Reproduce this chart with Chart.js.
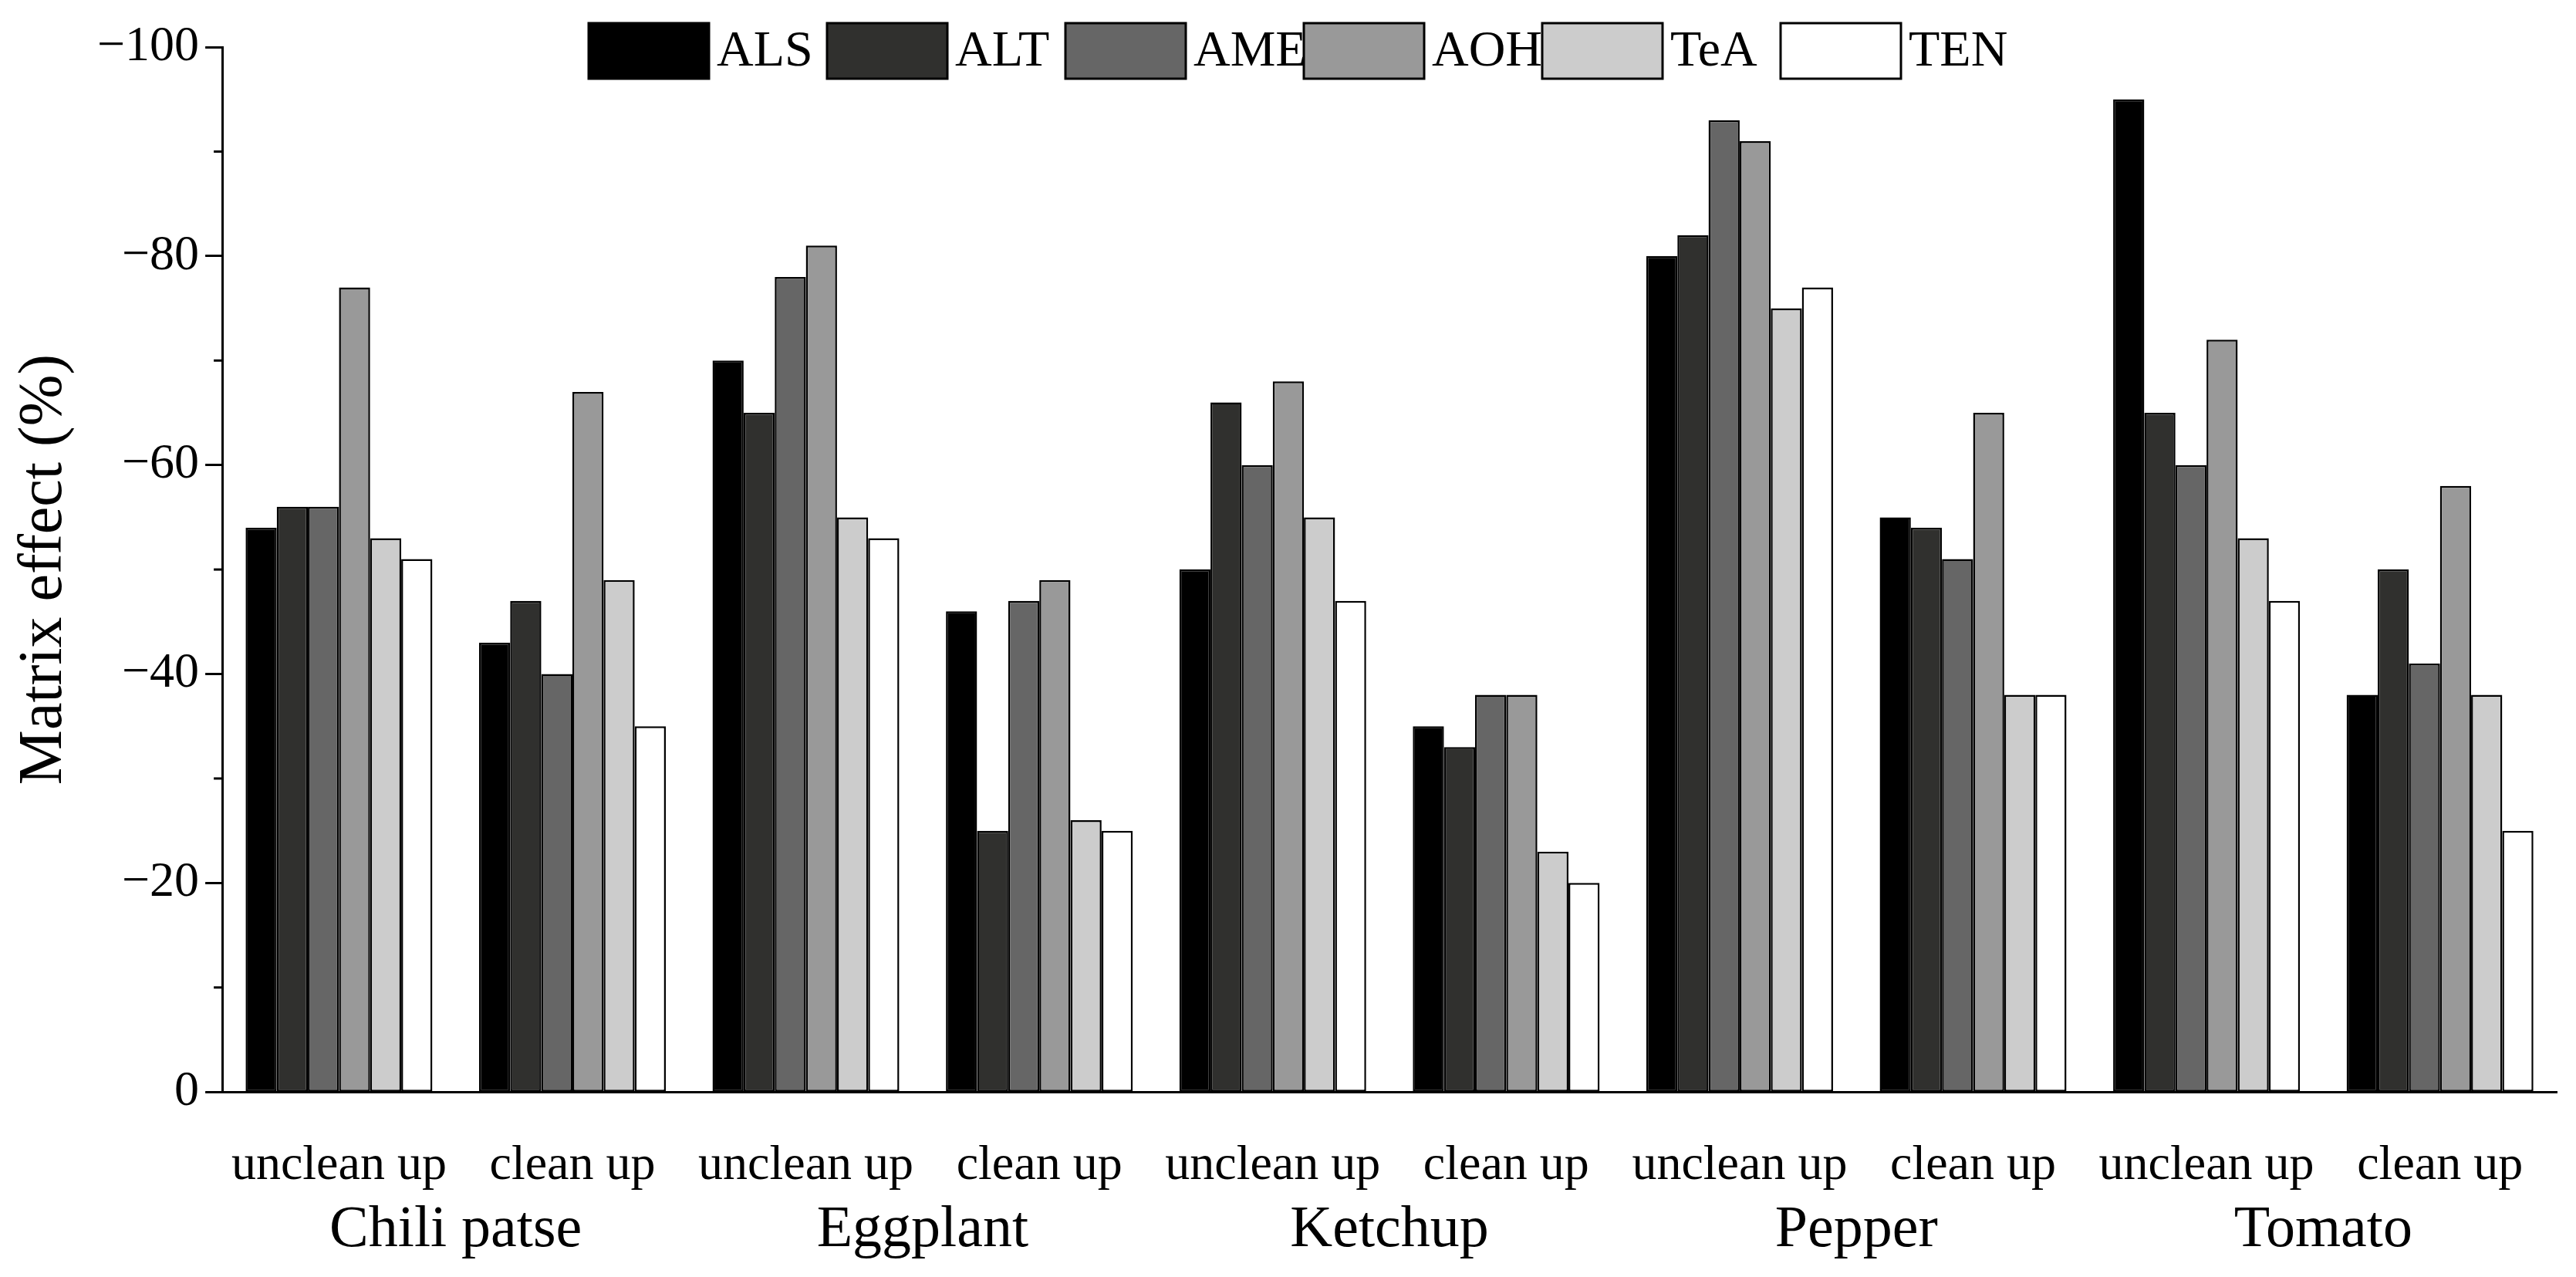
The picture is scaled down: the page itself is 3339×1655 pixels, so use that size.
<!DOCTYPE html>
<html>
<head>
<meta charset="utf-8">
<script src="https://cdn.jsdelivr.net/npm/chart.js@4"></script>
<style>
  body { margin: 0; background: #fff; }
</style>
</head>
<body>
<canvas id="chart" width="3339" height="1655"></canvas>
<script>
const groups = ["Chili patse", "Eggplant", "Ketchup", "Pepper", "Tomato"];
const treatments = ["unclean up", "clean up"];
const categories = groups.flatMap(g => treatments.map(t => t));
const seriesNames = ["ALS", "ALT", "AME", "AOH", "TeA", "TEN"];
const seriesColors = ["#000000", "#30302e", "#666666", "#999999", "#cccccc", "#ffffff"];

const ALS = [-54, -43, -70, -46, -50, -35, -80, -55, -95, -38];
const ALT = [-56, -47, -65, -25, -66, -33, -82, -54, -65, -50];
const AME = [-56, -40, -78, -47, -60, -38, -93, -51, -60, -41];
const AOH = [-77, -67, -81, -49, -68, -38, -91, -65, -72, -58];
const TeA = [-53, -49, -55, -26, -55, -23, -75, -38, -53, -38];
const TEN = [-51, -35, -53, -25, -47, -20, -77, -38, -47, -25];
const seriesValues = [ALS, ALT, AME, AOH, TeA, TEN];

const yTicks = [0, -20, -40, -60, -80, -100];
const font = "'Liberation Serif', 'DejaVu Serif', serif";

const extras = {
  id: "extras",
  afterDraw(chart) {
    const ctx = chart.ctx;
    const x = chart.scales.x;
    const y = chart.scales.y;
    ctx.save();
    ctx.strokeStyle = "#000";
    ctx.lineWidth = 3;
    for (let v = -10; v >= -90; v -= 20) {
      const py = y.getPixelForValue(v);
      ctx.beginPath();
      ctx.moveTo(chart.chartArea.left, py);
      ctx.lineTo(chart.chartArea.left - 11, py);
      ctx.stroke();
    }
    ctx.fillStyle = "#000";
    ctx.font = "76px " + font;
    ctx.textAlign = "center";
    ctx.textBaseline = "middle";
    groups.forEach((g, i) => {
      const px = (x.getPixelForValue(2 * i) + x.getPixelForValue(2 * i + 1)) / 2;
      ctx.fillText(g, px, 1595);
    });
    ctx.font = "66px " + font;
    ctx.textAlign = "left";
    seriesNames.forEach((n, i) => {
      const bx = 763 + i * 309;
      ctx.fillStyle = seriesColors[i];
      ctx.fillRect(bx, 30, 156, 72);
      ctx.strokeRect(bx, 30, 156, 72);
    });
    seriesNames.forEach((n, i) => {
      const bx = 763 + i * 309;
      ctx.fillStyle = "#000";
      ctx.fillText(n, bx + 166, 68);
    });
    ctx.restore();
  }
};

new Chart(document.getElementById("chart"), {
  type: "bar",
  data: {
    labels: categories,
    datasets: seriesNames.map((n, i) => ({
      label: n,
      data: seriesValues[i],
      backgroundColor: seriesColors[i],
      borderColor: "#000",
      borderWidth: 2.5,
      borderSkipped: false,
      categoryPercentage: 0.8,
      barPercentage: 1.0
    }))
  },
  options: {
    responsive: false,
    animation: false,
    devicePixelRatio: 1,
    layout: { padding: { top: 61, right: 25, bottom: 55, left: 0 } },
    plugins: { legend: { display: false }, tooltip: { enabled: false } },
    scales: {
      x: {
        grid: { display: false },
        border: { color: "#000", width: 3 },
        ticks: { color: "#000", font: { family: font, size: 64 }, padding: 50, maxRotation: 0 }
      },
      y: {
        reverse: true,
        min: -100,
        max: 0,
        afterBuildTicks: axis => { axis.ticks = yTicks.map(v => ({ value: v })); },
        grid: { drawOnChartArea: false, tickLength: 22, tickColor: "#000", tickWidth: 3 },
        border: { color: "#000", width: 3 },
        ticks: {
          color: "#000",
          font: { family: font, size: 64 },
          padding: 8,
          callback: v => v === 0 ? "0" : "\u2212" + Math.abs(v)
        },
        title: {
          display: true,
          text: "Matrix effect (%)",
          color: "#000",
          font: { family: font, size: 80 },
          padding: { top: 10, bottom: 12 }
        }
      }
    }
  },
  plugins: [extras]
});
</script>
</body>
</html>
